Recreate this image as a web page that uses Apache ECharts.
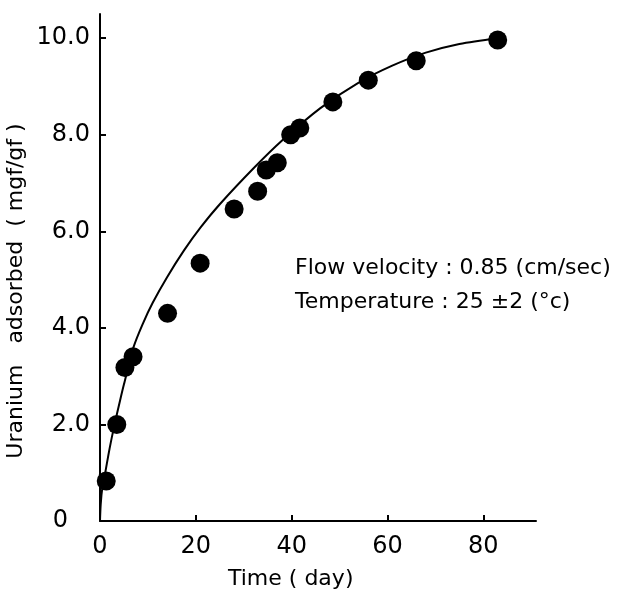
<!DOCTYPE html>
<html>
<head>
<meta charset="utf-8">
<script src="https://cdn.jsdelivr.net/npm/echarts@6/dist/echarts.min.js"></script>
<style>html,body{margin:0;padding:0;background:#fff}#c{width:618px;height:594px}</style>
</head>
<body>
<div id="c"></div>
<script>
// measured points: time (day) and uranium adsorbed (mg/g)
const pointDays = [1.3, 3.5, 5.2, 6.9, 14.1, 20.9, 28, 32.9, 34.7, 37, 39.8, 41.7, 48.6, 56, 66, 83];
const pointUranium = [0.83, 2.0, 3.18, 3.4, 4.3, 5.34, 6.46, 6.83, 7.27, 7.42, 8.0, 8.14, 8.68, 9.13, 9.53, 9.96];
// fitted curve
const curveDays = [0, 0.15, 0.5, 1, 2, 3, 4.2, 5, 7, 9, 11, 14, 17.5, 21, 25, 32, 38, 46, 54, 61, 68, 75, 83];
const curveUranium = [0, 0.35, 0.7, 0.95, 1.5, 1.98, 2.5, 2.83, 3.6, 4.1, 4.52, 5.05, 5.6, 6.08, 6.56, 7.3, 7.88, 8.55, 9.08, 9.43, 9.7, 9.88, 10.0];
const xTicks = [0, 20, 40, 60, 80];
const yTicks = [0, 2, 4, 6, 8, 10];
const xName = 'Time ( day)';
const yName = 'Uranium   adsorbed  ( mgf/gf )';
const note1 = 'Flow velocity : 0.85 (cm/sec)';
const note2 = 'Temperature : 25 ±2 (°c)';

const chart = echarts.init(document.getElementById('c'));
const font = 'DejaVu Sans';
chart.setOption({
  animation: false,
  backgroundColor: '#fff',
  grid: {left: 100, top: 14, width: 436, height: 507, containLabel: false},
  xAxis: {
    type: 'value', min: 0, max: 91, interval: 20,
    axisLine: {show: true, lineStyle: {color: '#000', width: 2}},
    axisTick: {show: true, inside: true, length: 6, lineStyle: {color: '#000', width: 2}, customValues: xTicks},
    axisLabel: {show: true, customValues: xTicks, color: '#000', fontFamily: font, fontSize: 24, margin: 14},
    splitLine: {show: false}
  },
  yAxis: {
    type: 'value', min: 0, max: 10.5, interval: 2,
    axisLine: {show: true, lineStyle: {color: '#000', width: 2}},
    axisTick: {show: true, inside: true, length: 6, lineStyle: {color: '#000', width: 2}, customValues: yTicks},
    axisLabel: {
      show: true, customValues: yTicks, color: '#000', fontFamily: font, fontSize: 24, margin: 10,
      formatter: v => v === 0 ? '{z|0}' : v.toFixed(1),
      rich: {z: {fontFamily: font, fontSize: 24, color: '#000', padding: [0, 22, 0, 0]}}
    },
    splitLine: {show: false}
  },
  series: [
    {
      type: 'line', data: curveDays.map((d, i) => [d, curveUranium[i]]),
      showSymbol: false, smooth: 0.3, lineStyle: {color: '#000', width: 2}, z: 2
    },
    {
      type: 'scatter', data: pointDays.map((d, i) => [d, pointUranium[i]]),
      symbol: 'circle', symbolSize: 19, itemStyle: {color: '#000', opacity: 1}, z: 3
    }
  ],
  graphic: [
    {type: 'text', left: 228, top: 568, style: {text: xName, font: '22px "DejaVu Sans"', fill: '#000'}},
    {type: 'text', x: 16, y: 291, rotation: Math.PI / 2,
      style: {text: yName, font: '22px "DejaVu Sans"', fill: '#000', align: 'center', verticalAlign: 'middle'}},
    {type: 'text', left: 295, top: 257, style: {text: note1, font: '22px "DejaVu Sans"', fill: '#000'}},
    {type: 'text', left: 295, top: 291, style: {text: note2, font: '22px "DejaVu Sans"', fill: '#000'}}
  ]
});
</script>
</body>
</html>
